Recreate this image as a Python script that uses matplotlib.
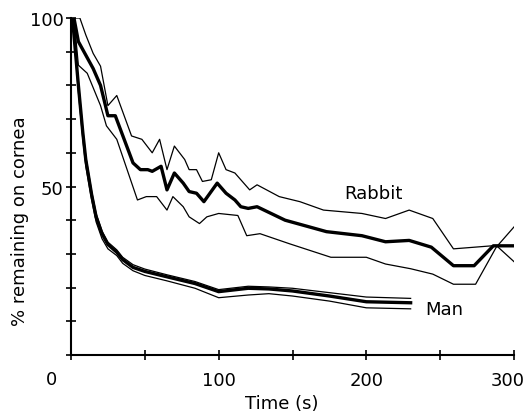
import matplotlib
matplotlib.use("Agg")
import matplotlib.pyplot as plt
from matplotlib.transforms import ScaledTranslation

# Rabbit (mean, upper and lower bounds)
rabbit_mean_t = [2, 5, 10, 15, 20, 25, 30, 36, 42, 47, 52, 55, 61, 65, 70, 76, 80, 85, 90, 99, 105, 111, 115, 120, 126, 145, 173, 197, 213, 229, 244, 259, 273, 286, 300]
rabbit_mean_y = [100, 93, 89, 85, 80, 71, 71, 64, 57, 55, 55, 54.5, 56, 49, 54, 51, 48.5, 48, 45.5, 51, 48, 46, 44, 43.5, 44, 40, 36.6, 35.4, 33.6, 34, 32, 26.5, 26.5, 32.4, 32.4]

rabbit_up_t = [2, 6, 10, 15, 20, 25, 31, 41, 48, 55, 60, 65, 70, 77, 80, 85, 89, 95, 100, 105, 111, 121, 126, 141, 155, 171, 197, 213, 229, 245, 259, 288, 300]
rabbit_up_y = [100, 100, 95, 89.5, 85.7, 74, 77, 65, 64, 60, 64, 55, 62, 58, 55, 55, 51.5, 52, 60, 55, 54, 49, 50.5, 47, 45.5, 43, 42, 40.5, 43, 40.5, 31.5, 32.5, 27.7]

rabbit_lo_t = [2, 5, 11, 20, 24, 31, 38, 45, 51, 58, 65, 69, 76, 80, 87, 92, 100, 113, 119, 128, 148, 176, 200, 213, 230, 245, 259, 274, 288, 300]
rabbit_lo_y = [100, 86, 83.6, 74, 68, 64, 55, 46, 47, 47, 43, 47, 44, 41, 39, 41, 42, 41.4, 35.4, 36, 33, 29, 29, 27, 25.6, 24, 21, 21, 32, 38]

# Man (mean, upper and lower bounds)
man_t = [1, 5, 8, 10, 14, 17, 21, 25, 31, 35, 42, 50, 65, 84, 100, 120, 134, 150, 175, 200, 230]
man_mean_y = [100, 80, 66, 58, 47.5, 41, 36, 32.8, 30.5, 28.3, 26, 24.8, 23.2, 21.2, 18.8, 19.8, 19.6, 19, 17.5, 15.8, 15.5]
man_up_y = [100, 81, 67, 59, 48.5, 42, 36.8, 33.5, 31.2, 29, 26.8, 25.5, 23.8, 21.8, 19.4, 20.4, 20.2, 19.8, 18.5, 17.2, 16.8]
man_lo_y = [100, 78, 64, 56, 46, 39.5, 34.5, 31.5, 29.5, 27.2, 25, 23.6, 22, 19.8, 17, 17.8, 18.2, 17.5, 16, 14, 13.7]

x_major = [0, 50, 100, 150, 200, 250, 300]
x_labels = ["", "", "100", "", "200", "", "300"]
y_major = [0, 10, 20, 30, 40, 50, 60, 70, 80, 90, 100]
y_labels = ["", "", "", "", "", "50", "", "", "", "", "100"]

plt.rcParams['font.family'] = ['DejaVu Sans']
fig = plt.figure(figsize=(5.27, 4.14), dpi=100)
ax = fig.add_axes([71/527, 1-356/414, (514-71)/527, (356-19)/414])

thin = 0.9
thick = 2.4
ax.plot(rabbit_up_t, rabbit_up_y, color='black', lw=thin)
ax.plot(rabbit_lo_t, rabbit_lo_y, color='black', lw=thin)
ax.plot(rabbit_mean_t, rabbit_mean_y, color='black', lw=thick)
ax.plot(man_t, man_up_y, color='black', lw=thin)
ax.plot(man_t, man_lo_y, color='black', lw=thin)
ax.plot(man_t, man_mean_y, color='black', lw=thick)

ax.set_xlim(0, 300)
ax.set_ylim(0, 100)
for s in ['top', 'right']:
    ax.spines[s].set_visible(False)
for s in ['left', 'bottom']:
    ax.spines[s].set_linewidth(1.5)
ax.set_xticks(x_major)
ax.set_xticklabels(x_labels)
ax.set_yticks(y_major)
ax.set_yticklabels(y_labels)
ax.tick_params(direction='inout', length=6.5, width=1.2, labelsize=13, pad=8)
ax.tick_params(axis='y', pad=2)
for sp in ax.spines.values():
    sp.set_clip_on(False)

# shift the last x tick label slightly left so it stays inside the figure
lbl = ax.get_xticklabels()[-1]
lbl.set_transform(lbl.get_transform() + ScaledTranslation(-6/100, 0, fig.dpi_scale_trans))

ax.text(-0.045, -0.07, "0", transform=ax.transAxes, fontsize=13, ha='center', va='center')
ax.text(205, 48, "Rabbit", fontsize=13, ha='center', va='center')
ax.text(253, 13.7, "Man", fontsize=13, ha='center', va='center')

fig.text(282/527, 1-404/414, "Time (s)", fontsize=13, ha='center', va='center')
fig.text(20/527, 1-221/414, "% remaining on cornea", fontsize=13, ha='center', va='center', rotation=90)

fig.savefig("out.png", dpi=100)
